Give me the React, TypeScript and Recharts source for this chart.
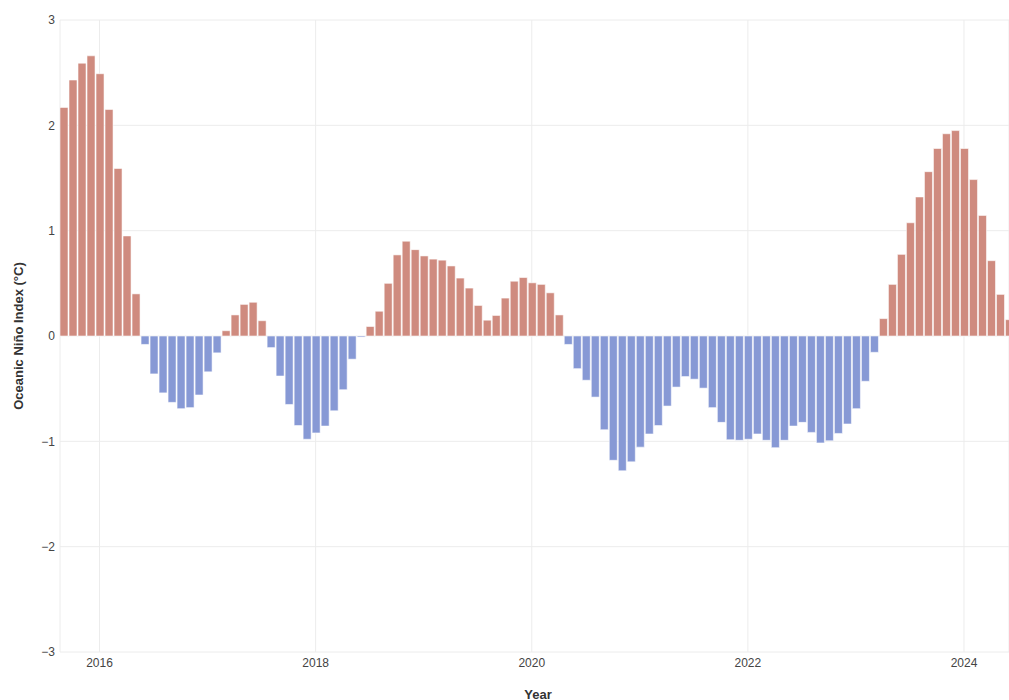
import React from 'react';
import { BarChart, Bar, XAxis, YAxis, CartesianGrid, Cell, Label } from 'recharts';

// Oceanic Niño Index values, monthly (first month given per year)
const oni2015 = [2.17, 2.43, 2.59, 2.66]; // Sep–Dec
const oni2016 = [2.49, 2.15, 1.59, 0.95, 0.40, -0.08, -0.36, -0.54, -0.63, -0.69, -0.68, -0.56];
const oni2017 = [-0.34, -0.16, 0.05, 0.20, 0.30, 0.32, 0.145, -0.11, -0.38, -0.65, -0.85, -0.98];
const oni2018 = [-0.92, -0.855, -0.71, -0.51, -0.22, -0.01, 0.09, 0.235, 0.50, 0.77, 0.90, 0.82];
const oni2019 = [0.76, 0.73, 0.72, 0.665, 0.55, 0.455, 0.29, 0.15, 0.195, 0.36, 0.52, 0.555];
const oni2020 = [0.505, 0.49, 0.41, 0.20, -0.08, -0.31, -0.42, -0.58, -0.89, -1.18, -1.28, -1.195];
const oni2021 = [-1.055, -0.93, -0.85, -0.665, -0.485, -0.385, -0.41, -0.495, -0.68, -0.82, -0.985, -0.99];
const oni2022 = [-0.98, -0.93, -0.99, -1.06, -0.99, -0.855, -0.82, -0.915, -1.015, -0.995, -0.925, -0.835];
const oni2023 = [-0.69, -0.43, -0.155, 0.165, 0.49, 0.775, 1.075, 1.32, 1.56, 1.78, 1.92, 1.95];
const oni2024 = [1.78, 1.485, 1.145, 0.715, 0.395, 0.155]; // Jan–Jun

const yearSeries: [number, number, number[]][] = [
  [2015, 9, oni2015],
  [2016, 1, oni2016],
  [2017, 1, oni2017],
  [2018, 1, oni2018],
  [2019, 1, oni2019],
  [2020, 1, oni2020],
  [2021, 1, oni2021],
  [2022, 1, oni2022],
  [2023, 1, oni2023],
  [2024, 1, oni2024],
];

const yearTickLabels = ['2016', '2018', '2020', '2022', '2024'];
const yTicks = [-3, -2, -1, 0, 1, 2, 3];

const BASE_YEAR = 2016;
const data = yearSeries.flatMap(([year, firstMonth, vals]) =>
  vals.map((v, i) => ({
    month: `${year}-${String(firstMonth + i).padStart(2, '0')}`,
    t: (year - BASE_YEAR) * 12 + (firstMonth - 1) + i,
    oni: v,
  }))
);
const xTicks = yearTickLabels.map((y) => (Number(y) - BASE_YEAR) * 12);

const RED = '#CF8B7F';
const BLUE = '#8799D5';
const FONT = '"Liberation Sans", Arial, sans-serif';

const fmtY = (v: number) => (v < 0 ? '\u2212' + Math.abs(v) : String(v));
const fmtX = (v: number) => String(BASE_YEAR + Math.round(v / 12));

export default function App() {
  return (
    <div
      style={{
        position: 'absolute',
        left: 0,
        top: 0,
        width: 1009,
        height: 700,
        overflow: 'hidden',
        background: '#fff',
        fontFamily: FONT,
      }}
    >
      <BarChart
        width={1009}
        height={700}
        data={data}
        margin={{ top: 20, right: 0, bottom: 0, left: 0 }}
      >
        <CartesianGrid stroke="#ececec" strokeWidth={1} />
        <XAxis
          dataKey="t"
          type="number"
          domain={[-4.39, 101]}
          allowDataOverflow
          ticks={xTicks}
          tickFormatter={fmtX}
          height={48}
          axisLine={false}
          tickLine={false}
          tickSize={0}
          tickMargin={6}
          tick={{ fill: '#444', fontSize: 12, fontFamily: FONT }}
        >
          <Label
            content={() => (
              <text
                x={538}
                y={694}
                textAnchor="middle"
                dominantBaseline="central"
                fontFamily={FONT}
                fontSize={13}
                fontWeight="bold"
                fill="#333"
              >
                Year
              </text>
            )}
          />
        </XAxis>
        <YAxis
          type="number"
          domain={[-3, 3]}
          allowDataOverflow
          ticks={yTicks}
          tickFormatter={fmtY}
          width={60}
          axisLine={false}
          tickLine={false}
          tickSize={0}
          tickMargin={5}
          tick={{ fill: '#444', fontSize: 12, fontFamily: FONT }}
        >
          <Label
            content={() => (
              <text
                x={18}
                y={336}
                transform="rotate(-90 18 336)"
                textAnchor="middle"
                dominantBaseline="central"
                fontFamily={FONT}
                fontSize={13}
                fontWeight="bold"
                fill="#333"
              >
                Oceanic Niño Index (°C)
              </text>
            )}
          />
        </YAxis>
        <Bar
          dataKey="oni"
          barSize={8}
          isAnimationActive={false}
          stroke="#ffffff"
          strokeOpacity={0.55}
          strokeWidth={1}
        >
          {data.map((d) => (
            <Cell key={d.month} fill={d.oni >= 0 ? RED : BLUE} />
          ))}
        </Bar>
      </BarChart>
    </div>
  );
}
